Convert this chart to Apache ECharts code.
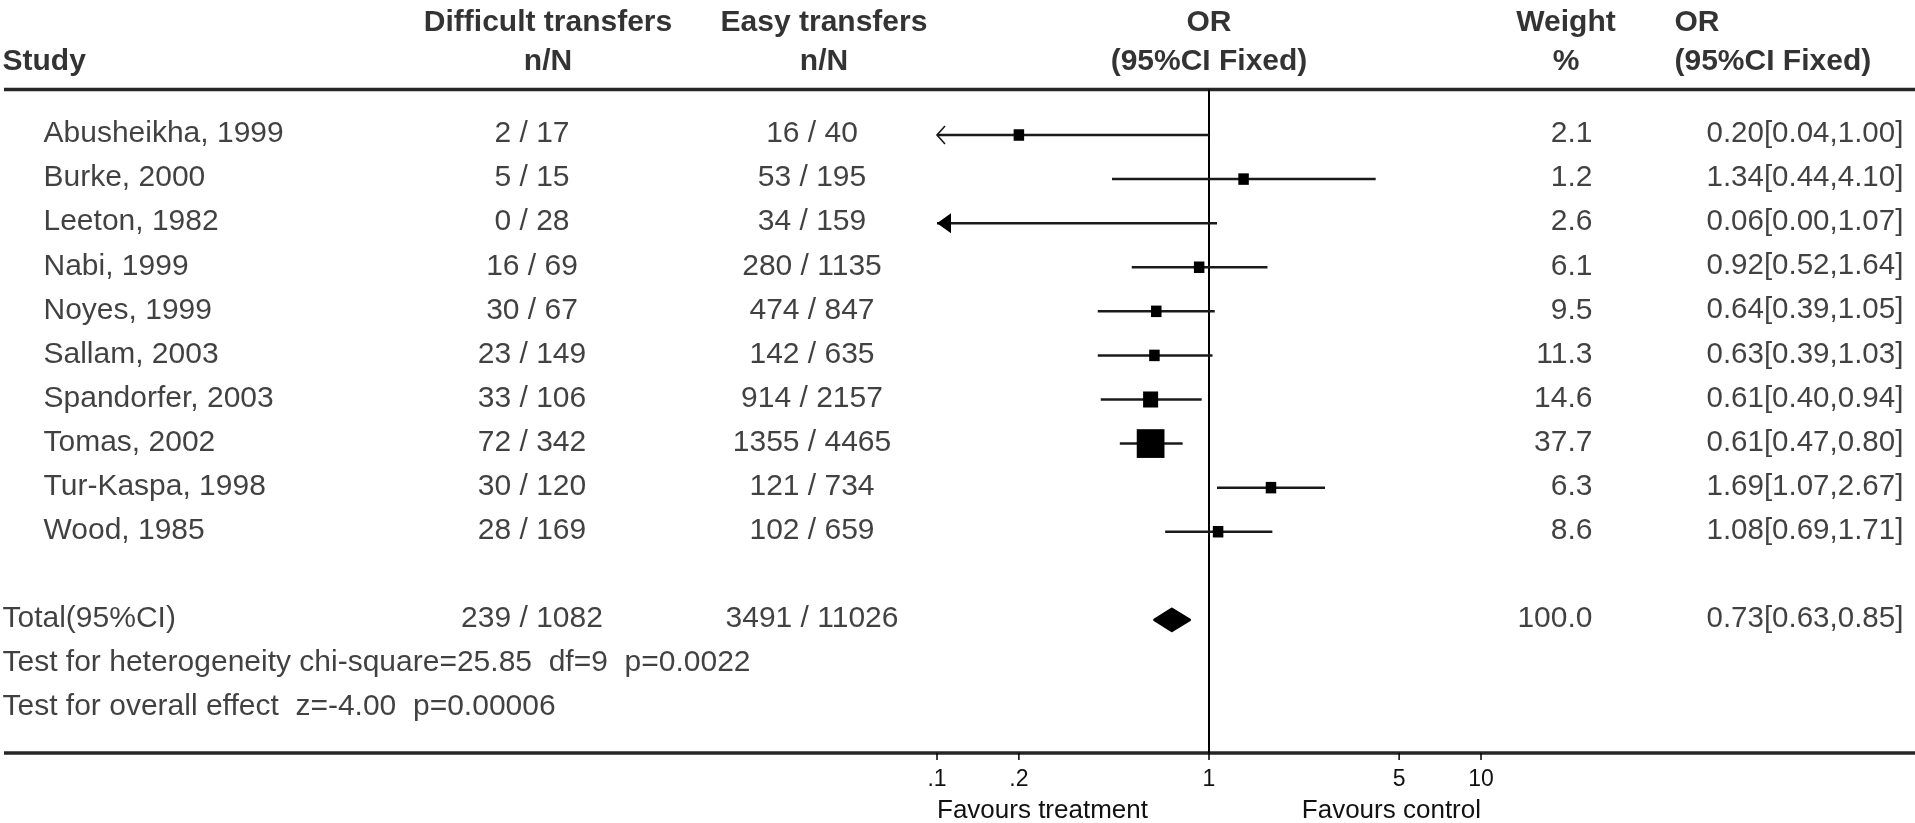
<!DOCTYPE html>
<html>
<head>
<meta charset="utf-8">
<script src="https://cdn.jsdelivr.net/npm/echarts@6/dist/echarts.min.js"></script>
<style>
  html, body { margin: 0; padding: 0; background: #fff; }
  #chart { width: 1915px; height: 823px; }
</style>
</head>
<body>
<div id="chart"></div>
<script>
// ---- Study data ----
const studies = ['Abusheikha, 1999', 'Burke, 2000', 'Leeton, 1982', 'Nabi, 1999', 'Noyes, 1999',
  'Sallam, 2003', 'Spandorfer, 2003', 'Tomas, 2002', 'Tur-Kaspa, 1998', 'Wood, 1985'];
const difficultTransfers = ['2 / 17', '5 / 15', '0 / 28', '16 / 69', '30 / 67',
  '23 / 149', '33 / 106', '72 / 342', '30 / 120', '28 / 169'];
const easyTransfers = ['16 / 40', '53 / 195', '34 / 159', '280 / 1135', '474 / 847',
  '142 / 635', '914 / 2157', '1355 / 4465', '121 / 734', '102 / 659'];
const weights = [2.1, 1.2, 2.6, 6.1, 9.5, 11.3, 14.6, 37.7, 6.3, 8.6];
const oddsRatios = [0.20, 1.34, 0.06, 0.92, 0.64, 0.63, 0.61, 0.61, 1.69, 1.08];
const ciLow = [0.04, 0.44, 0.00, 0.52, 0.39, 0.39, 0.40, 0.47, 1.07, 0.69];
const ciHigh = [1.00, 4.10, 1.07, 1.64, 1.05, 1.03, 0.94, 0.80, 2.67, 1.71];

// ---- Pooled result ----
const totalLabel = 'Total(95%CI)';
const totalDifficult = '239 / 1082';
const totalEasy = '3491 / 11026';
const totalWeight = 100.0;
const totalOR = [0.73, 0.63, 0.85]; // estimate, lower, upper

const testLines = [
  'Test for heterogeneity chi-square=25.85  df=9  p=0.0022',
  'Test for overall effect  z=-4.00  p=0.00006'
];

// ---- Axis ----
const xTicks = [0.1, 0.2, 1, 5, 10];
const xTickLabels = ['.1', '.2', '1', '5', '10'];
const favours = ['Favours treatment', 'Favours control'];

// ---- Column headers ----
const headerDifficult = ['Difficult transfers', 'n/N'];
const headerEasy = ['Easy transfers', 'n/N'];
const headerForest = ['OR', '(95%CI Fixed)'];
const headerWeight = ['Weight', '%'];
const headerOR = ['OR', '(95%CI Fixed)'];
const headerStudy = 'Study';

// ---- Layout (pixels / row units) ----
const FONT = '"Liberation Sans", Arial, sans-serif';
const ROW_MIN = -2.063, ROW_MAX = 15.02;
const HEADER_RULE = -0.033;
const HDR_ROWS = [-1.535, -0.65];
const TOTAL_ROW = 12, TEST_ROWS = [13, 14];
const COL = {
  edge: 2, study: 43, difficult: 532, easy: 812, weight: 1593, orText: 1706,
  hdrDifficult: 548, hdrEasy: 824, hdrWeight: 1566, hdrOR: 1674
};
const TEXT = '#111';

const studyRows = studies.map((_, i) => i + 1);
const fmt2 = v => v.toFixed(2);
const orText = (o, l, h) => fmt2(o) + '[' + fmt2(l) + ',' + fmt2(h) + ']';

function textColumn(texts, rows, x, align, extra) {
  const pos = align === 'left' ? 'right' : align === 'right' ? 'left' : 'inside';
  return {
    type: 'scatter', xAxisIndex: 0, yAxisIndex: 0,
    symbolSize: 1, itemStyle: { color: 'rgba(0,0,0,0)' },
    silent: true, clip: false, z: 5,
    data: texts.map((t, i) => ({ name: t, value: [x, rows[i]] })),
    label: Object.assign({
      show: true, formatter: '{b}', position: pos, distance: 0, offset: [0, -1],
      color: TEXT, fontFamily: FONT, fontSize: 30
    }, extra || {})
  };
}
const BOLD = { fontWeight: 'bold', fontSize: 30, color: '#000' };

// box side: small floor, then grows with the weight
const boxSize = w => (w < 12 ? 10.5 : 7 + 0.55 * w);

function renderStudy(params, api) {
  const cs = params.coordSys;
  const left = cs.x, right = cs.x + cs.width;
  const est = api.value(0), lo = api.value(1), hi = api.value(2), w = api.value(3), row = api.value(4);
  const y = api.coord([1, row])[1];
  const px = v => (v > 0 ? api.coord([v, row])[0] : -Infinity);
  const xLoRaw = px(lo);
  const xLo = Math.max(xLoRaw, left), xHi = Math.min(px(hi), right);
  const xEst = px(est);
  const kids = [{
    type: 'line', shape: { x1: xLo, y1: y, x2: xHi, y2: y },
    style: { stroke: '#1a1a1a', lineWidth: 2.5 }
  }];
  const estVisible = xEst >= left && xEst <= right;
  if (estVisible) {
    const s = boxSize(w);
    kids.push({ type: 'rect', shape: { x: xEst - s / 2, y: y - s / 2 - 0.5, width: s, height: s + 1 }, style: { fill: '#000' } });
  }
  if (xLoRaw < left) {
    if (estVisible) {
      kids.push({ type: 'polyline', shape: { points: [[left + 8, y - 9], [left, y], [left + 8, y + 9]] },
        style: { stroke: '#1a1a1a', lineWidth: 1.6, fill: null } });
    } else {
      kids.push({ type: 'polygon', shape: { points: [[left, y], [left + 14, y - 10], [left + 14, y + 10]] },
        style: { fill: '#000' } });
    }
  }
  return { type: 'group', children: kids };
}

function renderDiamond(params, api) {
  const row = api.value(3);
  const c = api.coord([api.value(0), row]);
  const l = api.coord([api.value(1), row]);
  const r = api.coord([api.value(2), row]);
  const h = 11;
  return {
    type: 'polygon',
    shape: { points: [[l[0], c[1]], [c[0], c[1] - h], [r[0], c[1]], [c[0], c[1] + h]] },
    style: { fill: '#000', stroke: '#000', lineWidth: 2.5, lineJoin: 'round' }
  };
}

function renderRefLine(params, api) {
  const a = api.coord([api.value(0), api.value(1)]);
  const b = api.coord([api.value(0), api.value(2)]);
  return { type: 'line', shape: { x1: a[0], y1: a[1], x2: b[0], y2: b[1] }, style: { stroke: '#000', lineWidth: 2 } };
}

function renderRule(params, api) {
  const a = api.coord([api.value(0), api.value(2)]);
  const b = api.coord([api.value(1), api.value(2)]);
  return { type: 'line', shape: { x1: a[0], y1: a[1], x2: b[0], y2: b[1] }, style: { stroke: '#262626', lineWidth: 3.5 } };
}

function renderTick(params, api) {
  const p = api.coord([api.value(0), ROW_MAX]);
  return {
    type: 'group', children: [
      { type: 'line', shape: { x1: p[0], y1: p[1], x2: p[0], y2: p[1] + 7 }, style: { stroke: '#000', lineWidth: 1.5 } },
      { type: 'text', x: p[0], y: p[1] + 27,
        style: { text: xTickLabels[params.dataIndex], fill: TEXT, font: '23px ' + FONT, align: 'center', verticalAlign: 'middle' } }
    ]
  };
}

function renderFavours(params, api) {
  const p = api.coord([api.value(0), ROW_MAX]);
  return {
    type: 'text', x: p[0], y: p[1] + 58,
    style: { text: favours[params.dataIndex], fill: TEXT, font: '26px ' + FONT,
      align: params.dataIndex === 0 ? 'left' : 'right', verticalAlign: 'middle' }
  };
}

const chart = echarts.init(document.getElementById('chart'), null, { renderer: 'canvas' });

const yAxisBase = { type: 'value', inverse: true, min: ROW_MIN, max: ROW_MAX, show: false };

chart.setOption({
  animation: false,
  backgroundColor: '#fff',
  grid: [
    { left: 0, right: 0, top: 0, bottom: 70 },       // table
    { left: 937, right: 434, top: 0, bottom: 70 }    // forest plot
  ],
  xAxis: [
    { type: 'value', gridIndex: 0, min: 0, max: 1915, show: false },
    { type: 'log', gridIndex: 1, logBase: 10, min: 0.1, max: 10, show: false }
  ],
  yAxis: [
    Object.assign({ gridIndex: 0 }, yAxisBase),
    Object.assign({ gridIndex: 1 }, yAxisBase)
  ],
  series: [
    // horizontal rules under the header and along the axis
    { type: 'custom', xAxisIndex: 0, yAxisIndex: 0, renderItem: renderRule, silent: true,
      encode: { x: [0, 1], y: 2 }, data: [[4, 1915, HEADER_RULE], [4, 1915, ROW_MAX]] },
    // line of no effect
    { type: 'custom', xAxisIndex: 1, yAxisIndex: 1, renderItem: renderRefLine, silent: true,
      encode: { x: 0, y: [1, 2] }, data: [[1, HEADER_RULE, ROW_MAX]] },
    // study estimates
    { type: 'custom', xAxisIndex: 1, yAxisIndex: 1, renderItem: renderStudy, silent: true, clip: false,
      encode: { x: 0, y: 4 },
      data: studies.map((_, i) => [oddsRatios[i], ciLow[i], ciHigh[i], weights[i], studyRows[i]]) },
    // pooled estimate
    { type: 'custom', xAxisIndex: 1, yAxisIndex: 1, renderItem: renderDiamond, silent: true,
      encode: { x: 0, y: 3 }, data: [[totalOR[0], totalOR[1], totalOR[2], TOTAL_ROW]] },
    // axis ticks and labels
    { type: 'custom', xAxisIndex: 1, yAxisIndex: 1, renderItem: renderTick, silent: true, clip: false,
      encode: { x: 0 }, data: xTicks.map(v => [v]) },
    { type: 'custom', xAxisIndex: 1, yAxisIndex: 1, renderItem: renderFavours, silent: true, clip: false,
      encode: { x: 0 }, data: [[xTicks[0]], [xTicks[xTicks.length - 1]]] },

    // header
    textColumn([headerStudy], [HDR_ROWS[1]], COL.edge, 'left', BOLD),
    textColumn(headerDifficult, HDR_ROWS, COL.hdrDifficult, 'center', BOLD),
    textColumn(headerEasy, HDR_ROWS, COL.hdrEasy, 'center', BOLD),
    Object.assign(textColumn(headerForest, HDR_ROWS, 1, 'center', BOLD), { xAxisIndex: 1, yAxisIndex: 1 }),
    textColumn(headerWeight, HDR_ROWS, COL.hdrWeight, 'center', BOLD),
    textColumn(headerOR, HDR_ROWS, COL.hdrOR, 'left', BOLD),

    // study rows
    textColumn(studies, studyRows, COL.study, 'left'),
    textColumn(difficultTransfers, studyRows, COL.difficult, 'center'),
    textColumn(easyTransfers, studyRows, COL.easy, 'center'),
    textColumn(weights.map(w => w.toFixed(1)), studyRows, COL.weight, 'right'),
    textColumn(studies.map((_, i) => orText(oddsRatios[i], ciLow[i], ciHigh[i])), studyRows, COL.orText, 'left', { fontSize: 29.5 }),

    // totals and tests
    textColumn([totalLabel], [TOTAL_ROW], COL.edge, 'left'),
    textColumn([totalDifficult], [TOTAL_ROW], COL.difficult, 'center'),
    textColumn([totalEasy], [TOTAL_ROW], COL.easy, 'center'),
    textColumn([totalWeight.toFixed(1)], [TOTAL_ROW], COL.weight, 'right'),
    textColumn([orText(totalOR[0], totalOR[1], totalOR[2])], [TOTAL_ROW], COL.orText, 'left', { fontSize: 29.5 }),
    textColumn(testLines, TEST_ROWS, COL.edge, 'left')
  ]
});
</script>
</body>
</html>
